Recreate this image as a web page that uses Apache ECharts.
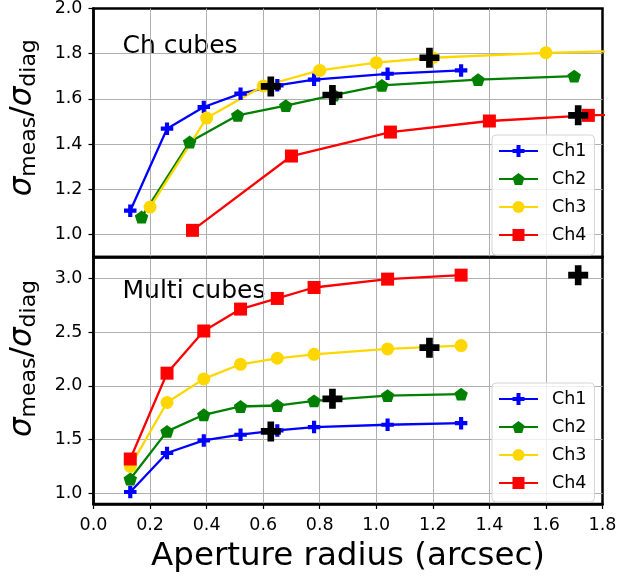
<!DOCTYPE html>
<html>
<head>
<meta charset="utf-8">
<script src="https://cdn.jsdelivr.net/npm/echarts@6/dist/echarts.min.js"></script>
<style>
  html, body { margin: 0; padding: 0; background: #ffffff; }
  #chart { width: 637px; height: 579px; }
</style>
</head>
<body>
<div id="chart"></div>
<script>
// ---- data: noise ratio vs. aperture radius ----
const channels = ['Ch1', 'Ch2', 'Ch3', 'Ch4'];
const xTicks = ['0.0', '0.2', '0.4', '0.6', '0.8', '1.0', '1.2', '1.4', '1.6', '1.8'];
const topTicks = ['1.0', '1.2', '1.4', '1.6', '1.8', '2.0'];
const bottomTicks = ['1.0', '1.5', '2.0', '2.5', '3.0'];

// "Ch cubes" panel: each channel sampled on its own radius grid
const chRadius1 = [0.13, 0.26, 0.39, 0.52, 0.65, 0.78, 1.04, 1.30];
const chRadius2 = [0.17, 0.34, 0.51, 0.68, 0.85, 1.02, 1.36, 1.70];
const chRadius3 = [0.20, 0.40, 0.60, 0.80, 1.00, 1.20, 1.60, 2.00];
const chRadius4 = [0.35, 0.70, 1.05, 1.40, 1.75, 2.10];
const chCh1 = [1.105, 1.468, 1.564, 1.623, 1.660, 1.685, 1.711, 1.726];
const chCh2 = [1.077, 1.409, 1.527, 1.570, 1.617, 1.660, 1.685, 1.701];
const chCh3 = [1.121, 1.515, 1.657, 1.726, 1.760, 1.782, 1.804, 1.816];
const chCh4 = [1.018, 1.347, 1.453, 1.502, 1.527, 1.540];
const chRefRadius = [0.627, 0.845, 1.188, 1.714];
const chRefValue = [1.655, 1.617, 1.782, 1.527];

// "Multi cubes" panel: common radius grid
const multiRadius = [0.13, 0.26, 0.39, 0.52, 0.65, 0.78, 1.04, 1.30];
const multiCh1 = [1.012, 1.375, 1.492, 1.545, 1.585, 1.616, 1.638, 1.653];
const multiCh2 = [1.133, 1.576, 1.731, 1.808, 1.817, 1.861, 1.910, 1.923];
const multiCh3 = [1.250, 1.845, 2.065, 2.201, 2.257, 2.294, 2.344, 2.375];
const multiCh4 = [1.319, 2.118, 2.511, 2.715, 2.814, 2.916, 2.994, 3.031];
const multiRefRadius = [0.627, 0.845, 1.188, 1.714];
const multiRefValue = [1.576, 1.879, 2.356, 3.031];

// ---- styling ----
const FONT = 'DejaVu Sans';
const colors = ['#0000ff', '#008000', '#ffd700', '#ff0000'];
const PLUS = 'path://M1,0H2V1H3V2H2V3H1V2H0V1H1Z';
const PENTAGON = 'path://M0,-1L0.951,-0.309L0.588,0.809L-0.588,0.809L-0.951,-0.309Z';
const symbols = [PLUS, PENTAGON, 'circle', 'rect'];
const symbolSizes = [12.5, [13.5, 12.8], 13, 13];

const zip = (xs, ys) => xs.map((x, i) => [x, ys[i]]);
const fmt1 = v => Number(v).toFixed(1);

function lineSeries(name, idx, xs, ys, gi) {
  return {
    name: name,
    type: 'line',
    xAxisIndex: gi, yAxisIndex: gi,
    data: zip(xs, ys),
    symbol: symbols[idx],
    symbolSize: symbolSizes[idx],
    showSymbol: true,
    clip: true,
    lineStyle: { color: colors[idx], width: 2.3 },
    itemStyle: { color: colors[idx], borderWidth: 0, opacity: 1 },
    emphasis: { disabled: true },
    animation: false
  };
}
function refSeries(xs, ys, gi) {
  return {
    name: 'reference radius',
    type: 'scatter',
    xAxisIndex: gi, yAxisIndex: gi,
    data: zip(xs, ys),
    symbol: PLUS,
    symbolSize: 20,
    itemStyle: { color: '#000000', opacity: 1 },
    emphasis: { disabled: true },
    z: 3,
    animation: false
  };
}

const sigmaName = '{s|σ}{sub|meas}{t|/}{s|σ}{sub|diag}';
const sigmaRich = {
  s: { fontFamily: FONT, fontSize: 31, fontStyle: 'italic', color: '#000', lineHeight: 36, verticalAlign: 'middle' },
  t: { fontFamily: FONT, fontSize: 31, color: '#000', lineHeight: 36, verticalAlign: 'middle' },
  sub: { fontFamily: FONT, fontSize: 22, color: '#000', lineHeight: 18, verticalAlign: 'bottom' }
};

function xAxis(gi, showLabels) {
  return {
    type: 'value', gridIndex: gi, min: 0, max: 1.8, interval: 0.2,
    axisLine: { show: true, onZero: false, lineStyle: { color: '#000', width: 2.5 } },
    axisTick: { show: showLabels, inside: false, length: 5, lineStyle: { color: '#000', width: 1.2 } },
    axisLabel: {
      show: showLabels, margin: 12, fontFamily: FONT, fontSize: 17.5, color: '#000',
      formatter: v => xTicks[Math.round(v / 0.2)] || fmt1(v)
    },
    splitLine: { show: true, showMinLine: false, showMaxLine: false, lineStyle: { color: '#b0b0b0', width: 1 } },
    name: showLabels ? 'Aperture radius (arcsec)' : '',
    nameLocation: 'middle', nameGap: 36,
    nameTextStyle: { fontFamily: FONT, fontSize: 32.5, color: '#000' }
  };
}
function yAxis(gi, min, max, step, labels, namePad) {
  return {
    type: 'value', gridIndex: gi, min: min, max: max,
    minInterval: step, maxInterval: step, splitNumber: 5,
    axisLine: { show: true, onZero: false, lineStyle: { color: '#000', width: 2.5 } },
    axisTick: { show: true, inside: false, length: 5, lineStyle: { color: '#000', width: 1.2 } },
    axisLabel: {
      margin: 11, fontFamily: FONT, fontSize: 17.5, color: '#000',
      showMinLabel: false, showMaxLabel: max === 2.0,
      formatter: v => {
        const s = fmt1(v);
        return labels.indexOf(s) >= 0 ? s : '';
      }
    },
    splitLine: { show: true, showMinLine: false, showMaxLine: false, lineStyle: { color: '#b0b0b0', width: 1 } },
    name: sigmaName, nameLocation: 'middle', nameRotate: 90, nameGap: 53,
    nameTextStyle: { rich: sigmaRich, padding: namePad }
  };
}
function legend(top, left, pad) {
  return {
    show: true, data: channels, orient: 'vertical',
    left: left, top: top,
    itemWidth: 39, itemHeight: 15, itemGap: 10,
    padding: pad,
    backgroundColor: 'rgba(255,255,255,0.8)',
    borderColor: '#d5d5d5', borderWidth: 1, borderRadius: 4,
    selectedMode: false,
    textStyle: { fontFamily: FONT, fontSize: 17.5, color: '#000', lineHeight: 15, padding: [0, 0, 0, 9] }
  };
}

const series = [];
[[chRadius1, chCh1], [chRadius2, chCh2], [chRadius3, chCh3], [chRadius4, chCh4]].forEach((p, i) => {
  series.push(lineSeries(channels[i], i, p[0], p[1], 0));
});
series.push(refSeries(chRefRadius, chRefValue, 0));
[multiCh1, multiCh2, multiCh3, multiCh4].forEach((ys, i) => {
  series.push(lineSeries(channels[i], i, multiRadius, ys, 1));
});
series.push(refSeries(multiRefRadius, multiRefValue, 1));

const chart = echarts.init(document.getElementById('chart'), null, { renderer: 'canvas' });
chart.setOption({
  animation: false,
  backgroundColor: '#ffffff',
  grid: [
    { left: 93.5, width: 509, top: 8.5, height: 248.5, show: true, borderColor: '#000', borderWidth: 2.5, containLabel: false, outerBoundsMode: 'none' },
    { left: 93.5, width: 509, top: 257, height: 247, show: true, borderColor: '#000', borderWidth: 2.5, containLabel: false, outerBoundsMode: 'none' }
  ],
  xAxis: [xAxis(0, false), xAxis(1, true)],
  yAxis: [
    yAxis(0, 0.9, 2.0, 0.2, topTicks, [0, 0, 0, 30]),
    yAxis(1, 0.9, 3.2, 0.5, bottomTicks, [0, 0, 0, 44])
  ],
  legend: [legend(135, 492, [7, 8, 11, 6]), legend(383, 492, [7, 8, 10, 6])],
  graphic: [
    { type: 'text', left: 122.5, top: 34, style: { text: 'Ch cubes', font: '25px "DejaVu Sans"', fill: '#000' } },
    { type: 'text', left: 122.5, top: 279, style: { text: 'Multi cubes', font: '25px "DejaVu Sans"', fill: '#000' } }
  ],
  series: series
});
</script>
</body>
</html>
